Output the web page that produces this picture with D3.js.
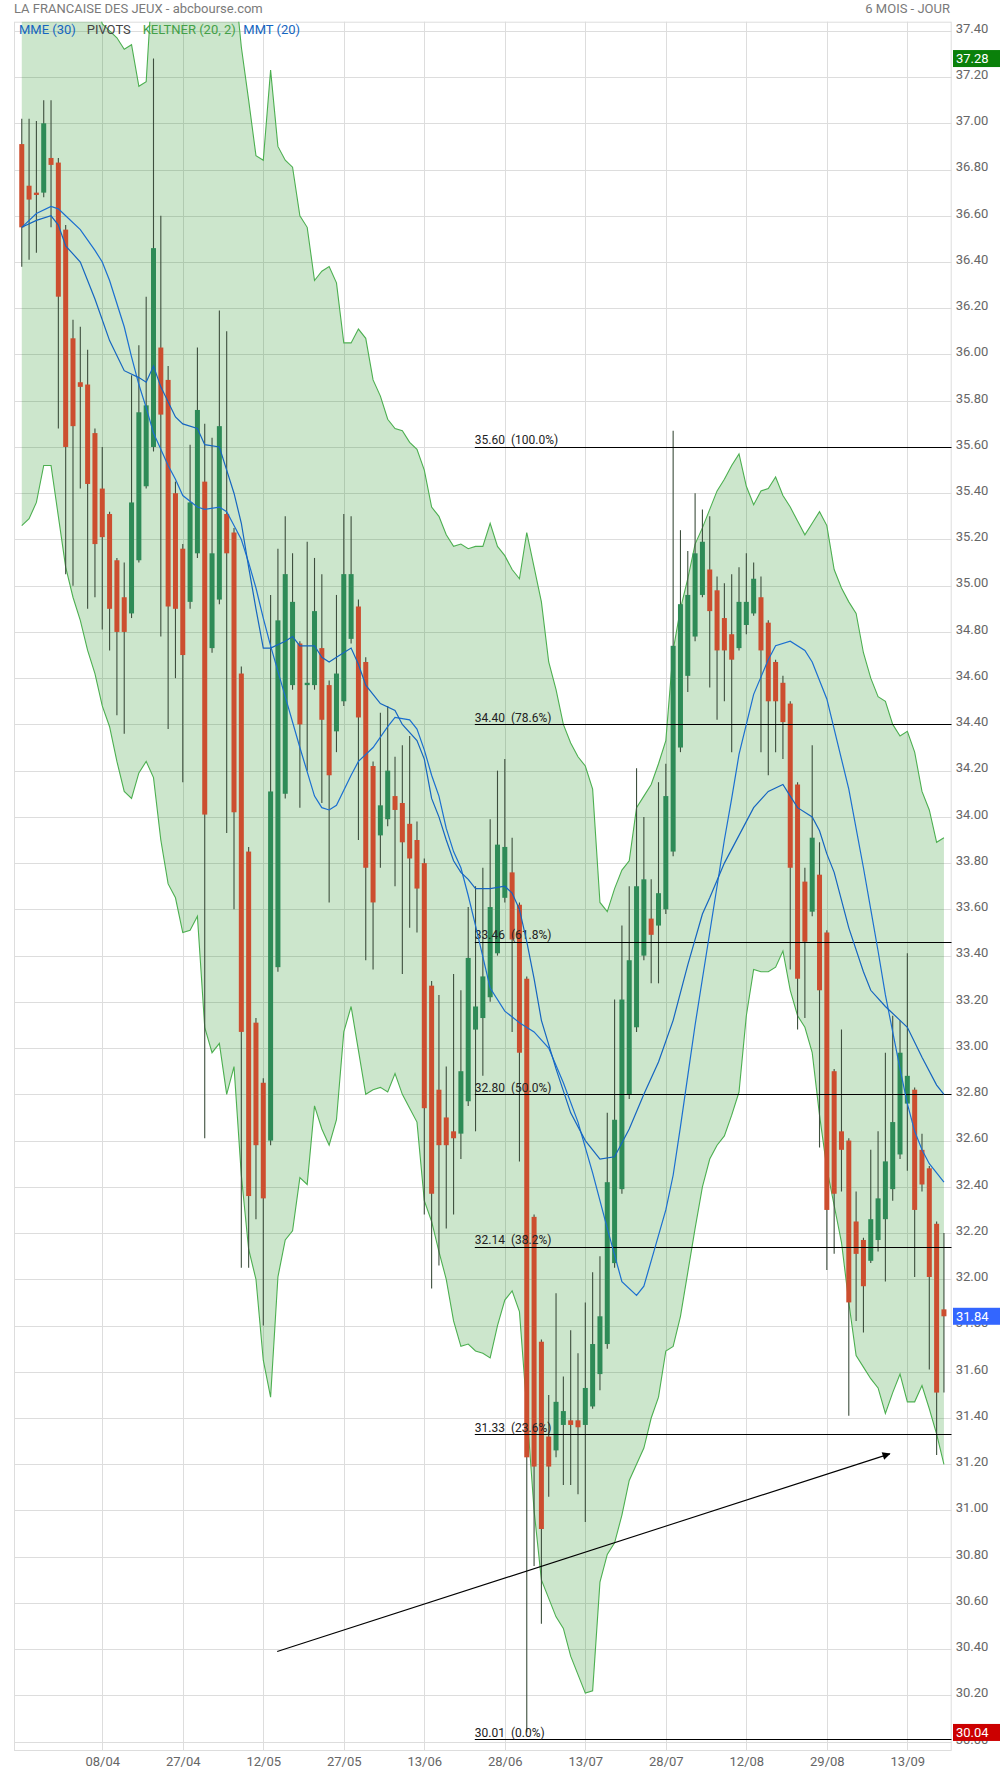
<!DOCTYPE html>
<html><head><meta charset="utf-8">
<script src="https://cdn.jsdelivr.net/npm/d3@7"></script>
<style>
body{margin:0;background:#fff;}
text{font-family:Roboto,"Noto Sans",sans-serif;}
</style>
</head><body>
<svg id="chart" width="1000" height="1774"></svg>
<script>
// ---------- DATA ----------
const opens = [36.91,36.73,36.70,36.70,36.85,36.83,36.54,36.07,35.88,35.87,
35.66,35.42,35.31,35.11,34.95,34.88,35.11,35.43,35.60,36.03,
35.89,35.40,35.16,34.93,35.14,35.45,34.73,34.94,35.31,35.23,
34.62,33.85,33.11,32.85,32.60,33.35,34.10,34.57,34.75,34.57,
34.57,34.73,34.57,34.37,34.50,34.77,34.91,34.67,34.22,33.92,
33.99,34.09,34.06,33.97,33.90,33.80,33.27,32.82,32.70,32.64,
32.63,32.77,33.08,33.13,33.22,33.41,33.65,33.76,33.62,33.30,
32.27,31.73,31.32,31.26,31.37,31.39,31.39,31.37,31.45,31.59,
31.72,32.07,32.39,32.80,33.09,33.40,33.56,33.53,33.60,33.85,
34.30,34.61,34.78,34.96,35.07,34.98,34.86,34.79,34.73,34.83,
34.88,34.95,34.84,34.67,34.58,34.49,34.14,33.72,33.59,33.75,
33.50,32.90,32.64,32.60,32.25,32.17,32.08,32.17,32.26,32.39,
32.54,32.76,32.82,32.56,32.48,32.24,31.87];
const highs = [37.02,37.02,37.01,37.10,37.10,36.85,36.56,36.15,36.12,36.02,
35.68,35.60,35.32,35.12,35.10,35.91,36.04,36.25,37.28,36.60,
35.95,35.45,35.18,35.61,36.03,35.70,35.64,36.19,36.10,35.25,
34.65,33.87,33.13,32.87,34.96,35.16,35.30,35.14,34.76,35.19,
35.12,35.05,34.59,34.96,35.31,35.30,34.94,34.69,34.24,34.45,
34.48,34.26,34.31,34.35,33.98,33.82,33.29,33.23,32.92,33.32,
33.25,33.61,33.70,33.78,33.99,34.20,34.25,33.91,33.63,33.31,
32.28,31.74,31.50,31.94,31.58,31.78,31.68,31.90,32.03,32.10,
32.72,33.21,33.53,33.70,34.21,34.00,33.73,34.15,34.23,35.67,
35.24,35.15,35.40,35.33,35.30,35.04,35.01,35.05,35.08,35.14,
35.10,35.04,34.85,34.68,34.61,34.50,34.15,33.78,34.31,33.89,
33.51,32.91,33.08,32.61,32.38,32.18,32.56,32.64,32.98,33.14,
33.12,33.41,32.83,32.63,32.49,32.25,32.20];
const lows = [36.38,36.41,36.44,36.68,36.55,35.68,35.05,35.00,35.42,34.90,
34.95,34.81,34.72,34.44,34.36,34.86,35.10,35.42,35.58,34.78,
34.38,34.60,34.15,34.90,35.12,32.61,34.71,34.92,33.93,33.60,
32.05,32.05,32.26,31.80,32.58,33.33,34.08,34.55,34.04,34.20,
34.55,34.06,33.63,34.28,34.48,34.75,33.90,33.38,33.34,33.78,
33.96,33.70,33.32,33.52,33.50,32.28,31.96,32.06,32.22,32.28,
32.52,32.75,32.64,32.88,33.20,33.40,33.63,33.07,32.51,30.04,
30.76,30.51,31.06,31.23,31.11,31.11,31.07,30.95,31.44,31.52,
31.70,32.05,32.37,32.78,33.07,33.38,33.28,33.28,33.58,33.83,
34.28,34.54,34.76,34.95,34.56,34.42,34.50,34.28,34.72,34.79,
34.87,34.28,34.18,34.28,34.25,33.34,33.08,33.13,33.57,32.57,
32.04,32.11,32.38,31.41,31.82,31.77,32.07,32.12,31.99,32.34,
32.52,32.47,32.01,32.38,31.61,31.24,31.51];
const closes = [36.55,36.67,36.69,37.00,36.82,36.25,35.60,35.69,35.86,35.44,
35.18,35.21,34.90,34.80,34.80,35.36,35.75,35.78,36.46,35.74,
34.91,34.90,34.70,35.36,35.76,34.01,35.14,35.69,35.14,34.02,
33.07,32.36,32.58,32.35,34.11,34.85,35.05,34.93,34.40,34.58,
34.89,34.42,34.18,34.62,35.05,35.05,34.43,33.78,33.63,34.05,
34.20,34.03,33.89,33.82,33.69,32.74,32.37,32.58,32.58,32.61,
32.90,33.39,33.18,33.31,33.61,33.88,33.87,33.47,32.98,31.23,
31.19,30.92,31.19,31.47,31.43,31.37,31.36,31.53,31.72,31.84,
32.42,32.69,33.21,33.38,33.70,33.73,33.49,33.67,34.09,34.74,
34.92,34.96,35.14,35.19,34.89,34.72,34.72,34.68,34.93,34.93,
35.03,34.72,34.50,34.50,34.41,33.78,33.30,33.46,33.91,33.25,
32.30,32.37,32.56,31.90,32.11,31.97,32.26,32.35,32.51,32.68,
32.98,32.88,32.30,32.41,32.01,31.51,31.84];

const keltnerUpper = [38.2,38.2,38.2,38.2,38.1,38.0,37.95,37.9,37.8,37.7,
37.55,37.43,37.40,37.37,37.32,37.34,37.16,37.18,37.7,37.9,
37.9,37.9,37.9,37.9,37.9,37.9,37.9,37.9,37.9,37.65,
37.33,37.10,36.86,36.84,37.23,36.90,36.84,36.81,36.60,36.55,
36.32,36.36,36.38,36.31,36.05,36.05,36.11,36.07,35.89,35.82,
35.72,35.68,35.67,35.62,35.59,35.50,35.34,35.30,35.22,35.17,
35.18,35.16,35.17,35.17,35.27,35.17,35.13,35.07,35.03,35.23,
35.08,34.93,34.67,34.55,34.40,34.32,34.26,34.22,34.12,33.63,
33.59,33.69,33.77,33.81,34.04,34.09,34.14,34.23,34.33,34.72,
34.90,35.03,35.18,35.25,35.33,35.41,35.46,35.52,35.57,35.43,
35.35,35.41,35.42,35.47,35.39,35.34,35.28,35.22,35.27,35.32,
35.26,35.07,34.99,34.93,34.88,34.71,34.60,34.52,34.50,34.40,
34.35,34.37,34.28,34.11,34.03,33.89,33.91];
const keltnerLower = [35.26,35.29,35.36,35.52,35.52,35.30,35.08,34.95,34.85,34.72,
34.62,34.48,34.39,34.24,34.11,34.08,34.19,34.24,34.17,33.90,
33.71,33.65,33.50,33.51,33.57,33.09,32.98,33.02,32.80,32.92,
32.45,32.13,32.00,31.65,31.49,32.01,32.17,32.21,32.44,32.41,
32.75,32.65,32.58,32.69,33.07,33.18,32.99,32.80,32.82,32.83,
32.81,32.89,32.80,32.74,32.68,32.34,32.25,32.12,32.00,31.82,
31.71,31.72,31.69,31.68,31.66,31.80,31.91,31.95,31.86,31.44,
31.00,30.70,30.62,30.54,30.49,30.37,30.29,30.21,30.22,30.69,
30.81,30.86,30.98,31.13,31.20,31.27,31.40,31.49,31.69,31.71,
31.84,32.03,32.22,32.40,32.52,32.58,32.62,32.71,32.81,33.14,
33.34,33.33,33.33,33.35,33.42,33.25,33.14,33.09,32.98,32.71,
32.48,32.32,32.16,31.90,31.67,31.62,31.57,31.53,31.42,31.51,
31.59,31.47,31.47,31.54,31.44,31.33,31.20];

const mmeIdx = [0,2,4,5,6,8,10,12,14,16,17,18,19,21,22,24,25,27,28,29,30,31,32,33,34,36,37,38,40,41,42,43,45,46,47,48,49,51,52,54,55,56,57,58,59,60,61,62,64,66,67,68,69,70,71,73,75,77,79,81,83,85,87,89,91,93,94,96,98,100,102,104,105,106,108,109,110,111,113,115,116,118,120,121,123,125,126];
const mmeVal = [36.55,36.58,36.60,36.56,36.47,36.40,36.24,36.06,35.93,35.90,35.88,35.95,35.86,35.73,35.70,35.68,35.61,35.60,35.50,35.40,35.27,35.08,34.90,34.73,34.73,34.76,34.78,34.74,34.74,34.69,34.67,34.69,34.73,34.66,34.57,34.53,34.49,34.46,34.40,34.33,34.25,34.08,34.00,33.90,33.81,33.76,33.73,33.69,33.69,33.70,33.67,33.60,33.46,33.30,33.12,32.91,32.72,32.60,32.52,32.53,32.65,32.80,32.94,33.12,33.36,33.58,33.65,33.80,33.92,34.04,34.11,34.14,34.09,34.04,34.00,33.94,33.84,33.76,33.52,33.33,33.25,33.18,33.12,33.09,32.96,32.84,32.80];
const mmtIdx = [0,2,4,5,6,8,10,11,12,14,15,16,17,18,20,21,22,24,25,27,28,29,30,31,32,33,34,36,38,40,41,42,43,45,46,48,50,51,53,54,55,56,57,58,59,60,61,62,64,66,68,70,72,74,76,78,80,82,84,85,86,88,89,90,91,92,93,94,96,97,98,99,100,102,103,105,107,108,110,112,113,115,116,117,118,119,120,121,122,123,124,125,126];
const mmtVal = [36.55,36.61,36.64,36.63,36.60,36.54,36.45,36.40,36.32,36.12,35.99,35.87,35.77,35.66,35.52,35.46,35.39,35.34,35.33,35.34,35.32,35.26,35.20,35.10,34.99,34.86,34.74,34.52,34.30,34.09,34.04,34.03,34.05,34.18,34.24,34.30,34.39,34.43,34.42,34.38,34.29,34.18,34.09,33.95,33.85,33.78,33.66,33.53,33.26,33.16,33.11,33.07,33.00,32.85,32.68,32.46,32.22,31.99,31.93,31.97,32.08,32.30,32.45,32.66,32.88,33.10,33.30,33.50,33.90,34.08,34.27,34.40,34.53,34.68,34.74,34.76,34.72,34.67,34.51,34.25,34.12,33.78,33.60,33.42,33.23,33.07,32.91,32.76,32.64,32.56,32.50,32.46,32.42];

const tickIdx = [11,22,33,44,55,66,77,88,99,110,121];
const tickLabels = ["08/04","27/04","12/05","27/05","13/06","28/06","13/07","28/07","12/08","29/08","13/09"];
const yTickValues = d3.range(0, 38).map(k => 30 + k * 0.2);

const fibLevels = [35.60, 34.40, 33.46, 32.80, 32.14, 31.33, 30.01];
const fibPercents = ["100.0%", "78.6%", "61.8%", "50.0%", "38.2%", "23.6%", "0.0%"];
const fibStartIdx = 61.9;

const priceMarks = [37.28, 31.84, 30.04];
const priceMarkColors = ["#0a800a", "#3366ff", "#cc0000"];

const arrowStart = [34.9, 30.39];
const arrowEnd = [118.6, 31.245];

const legendNames = ["MME (30)", "PIVOTS", "KELTNER (20, 2)", "MMT (20)"];
const legendColors = ["#1565c0", "#444444", "#43a047", "#1565c0"];

// ---------- LAYOUT ----------
const L = 14, R = 951.7, T = 21.7, B = 1751;
const svg = d3.select("#chart");
const x = d3.scaleLinear().domain([-1.06, 127.06]).range([L, R]);
const y = d3.scaleLinear().domain([30, 37.4]).range([1741.7, 30.8]);
const N = closes.length;
const idx = d3.range(N);

svg.append("defs").append("clipPath").attr("id", "plotClip")
  .append("rect").attr("x", L).attr("y", T).attr("width", R - L).attr("height", B - T);
svg.select("defs").append("marker").attr("id", "arrowHead")
  .attr("viewBox", "0 0 10 10").attr("refX", 9).attr("refY", 5)
  .attr("markerWidth", 11).attr("markerHeight", 8).attr("markerUnits", "userSpaceOnUse")
  .attr("orient", "auto")
  .append("path").attr("d", "M0,0 L10,5 L0,10 Z").attr("fill", "#000");

// title
svg.append("text").attr("x", L).attr("y", 12.5).attr("font-size", 13).attr("fill", "#7a7a7a")
  .text("LA FRANCAISE DES JEUX - abcbourse.com");
svg.append("text").attr("x", 950).attr("y", 12.5).attr("font-size", 13).attr("fill", "#7a7a7a")
  .attr("text-anchor", "end").text("6 MOIS - JOUR");

// grid
const grid = svg.append("g");
grid.selectAll("line.h").data(yTickValues).enter().append("line")
  .attr("x1", L).attr("x2", R)
  .attr("y1", d => Math.round(y(d)) + 0.5).attr("y2", d => Math.round(y(d)) + 0.5)
  .attr("stroke", "#dddddd").attr("stroke-width", 1);
grid.selectAll("line.v").data(tickIdx).enter().append("line")
  .attr("x1", d => Math.round(x(d)) + 0.5).attr("x2", d => Math.round(x(d)) + 0.5)
  .attr("y1", T).attr("y2", B)
  .attr("stroke", "#dddddd").attr("stroke-width", 1);
svg.append("rect").attr("x", L + 0.5).attr("y", T + 0.5).attr("width", R - L - 1).attr("height", B - T - 1)
  .attr("fill", "none").attr("stroke", "#dddddd");

const plot = svg.append("g").attr("clip-path", "url(#plotClip)");

// Keltner band
const area = d3.area().x(i => x(i)).y0(i => y(keltnerLower[i])).y1(i => y(keltnerUpper[i]));
plot.append("path").datum(idx).attr("d", area).attr("fill", "rgba(0,128,0,0.2)");
const upLine = d3.line().x(i => x(i)).y(i => y(keltnerUpper[i]));
const loLine = d3.line().x(i => x(i)).y(i => y(keltnerLower[i]));
plot.append("path").datum(idx).attr("d", upLine).attr("fill", "none").attr("stroke", "#4caf50").attr("stroke-width", 1.1);
plot.append("path").datum(idx).attr("d", loLine).attr("fill", "none").attr("stroke", "#4caf50").attr("stroke-width", 1.1);

// candles
const candles = plot.append("g");
candles.selectAll("line.wick").data(idx).enter().append("line")
  .attr("x1", i => x(i)).attr("x2", i => x(i))
  .attr("y1", i => y(highs[i])).attr("y2", i => y(lows[i]))
  .attr("stroke", "#3e4f3e").attr("stroke-width", 1.1);
candles.selectAll("rect.body").data(idx).enter().append("rect")
  .attr("x", i => x(i) - 2.5).attr("width", 5)
  .attr("y", i => y(Math.max(opens[i], closes[i])))
  .attr("height", i => Math.max(1.5, Math.abs(y(opens[i]) - y(closes[i]))))
  .attr("fill", i => closes[i] >= opens[i] ? "#2e8b57" : "#cc4e2f");

// fibonacci retracement lines
const fib = plot.append("g");
fib.selectAll("line").data(fibLevels).enter().append("line")
  .attr("x1", x(fibStartIdx)).attr("x2", R)
  .attr("y1", d => Math.round(y(d)) + 0.5).attr("y2", d => Math.round(y(d)) + 0.5)
  .attr("stroke", "#000").attr("stroke-width", 1);
fib.selectAll("text").data(fibLevels).enter().append("text")
  .attr("x", x(fibStartIdx)).attr("y", d => y(d) - 2.5)
  .attr("font-size", 12).attr("fill", "#222").style("white-space", "pre")
  .text((d, k) => d.toFixed(2) + "  (" + fibPercents[k] + ")");

// moving averages
const maLine = d3.line().x(d => x(d[0])).y(d => y(d[1]));
plot.append("path").datum(mmtIdx.map((d, k) => [d, mmtVal[k]])).attr("d", maLine)
  .attr("fill", "none").attr("stroke", "#1b6fd0").attr("stroke-width", 1.2);
plot.append("path").datum(mmeIdx.map((d, k) => [d, mmeVal[k]])).attr("d", maLine)
  .attr("fill", "none").attr("stroke", "#1565c0").attr("stroke-width", 1.2);

// trend arrow
plot.append("line")
  .attr("x1", x(arrowStart[0])).attr("y1", y(arrowStart[1]))
  .attr("x2", x(arrowEnd[0])).attr("y2", y(arrowEnd[1]))
  .attr("stroke", "#000").attr("stroke-width", 1.1).attr("marker-end", "url(#arrowHead)");

// legend
const legendX = [19, 86.7, 142.7, 243.3];
svg.append("g").selectAll("text").data(legendNames).enter().append("text")
  .attr("x", (d, k) => legendX[k]).attr("y", 33.5).attr("font-size", 13)
  .attr("fill", (d, k) => legendColors[k]).text(d => d);

// right axis
const yAxis = d3.axisRight(y).tickValues(yTickValues).tickSize(0).tickPadding(4)
  .tickFormat(d3.format(".2f"));
const ya = svg.append("g").attr("transform", `translate(${R},0)`).call(yAxis);
ya.select(".domain").remove();
ya.selectAll("text").attr("font-size", 13).attr("fill", "#666").attr("font-family", "Roboto")
  .attr("dy", "0.1em");

// bottom axis
const xAxis = d3.axisBottom(x).tickValues(tickIdx).tickSize(0).tickPadding(6)
  .tickFormat((d, k) => tickLabels[k]);
const xa = svg.append("g").attr("transform", `translate(0,${B})`).call(xAxis);
xa.select(".domain").remove();
xa.selectAll("text").attr("font-size", 13).attr("fill", "#666").attr("font-family", "Roboto");

// price markers
const pm = svg.append("g");
pm.selectAll("rect").data(priceMarks).enter().append("rect")
  .attr("x", 953).attr("width", 47).attr("y", d => y(d) - 8.5).attr("height", 17)
  .attr("fill", (d, k) => priceMarkColors[k]);
pm.selectAll("text").data(priceMarks).enter().append("text")
  .attr("x", 956).attr("y", d => y(d) + 4.5).attr("font-size", 13).attr("fill", "#fff")
  .text(d => d.toFixed(2));
</script>
</body></html>
